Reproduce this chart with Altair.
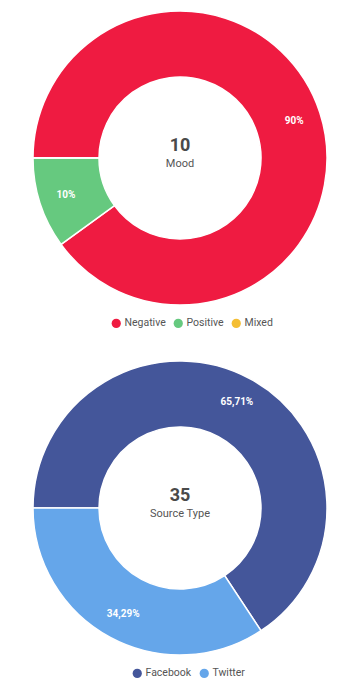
import math
import altair as alt
import pandas as pd

mood_cats = ["Negative", "Positive", "Mixed"]
mood_counts = [9, 1, 0]
mood_colors = ["#EF1B41", "#66C97F", "#F4BE34"]
mood_title = "Mood"

source_cats = ["Facebook", "Twitter"]
source_counts = [23, 12]
source_colors = ["#44569A", "#65A6EA"]
source_title = "Source Type"

FONT = "Roboto"
START = 3 * math.pi / 2


def pct_label(c, total):
    s = f"{c / total * 100:.2f}".rstrip("0").rstrip(".").replace(".", ",")
    return s + "%"


def donut(cats, counts, colors, title, legend_x):
    total = sum(counts)
    df = pd.DataFrame({
        "cat": cats,
        "count": counts,
        "idx": list(range(len(cats))),
        "label": [pct_label(c, total) for c in counts],
    })
    theta = alt.Theta("count:Q", stack=True,
                      scale=alt.Scale(range=[START, START + 2 * math.pi]))
    color = alt.Color(
        "cat:N",
        scale=alt.Scale(domain=cats, range=colors),
        legend=alt.Legend(
            title=None, orient="none", legendX=legend_x, legendY=308,
            direction="horizontal",
            symbolType="circle", symbolSize=85, symbolStrokeWidth=0,
            labelFont=FONT, labelFontSize=10.5, labelColor="#555555",
            columnPadding=7, labelOffset=3,
        ),
    )
    arcs = alt.Chart(df).mark_arc(
        radius=147, innerRadius=81, stroke="white", strokeWidth=1.5
    ).encode(theta=theta, color=color, order=alt.Order("idx:Q"))
    labels = alt.Chart(df).transform_filter("datum.count > 0").mark_text(
        radius=120, font=FONT, fontSize=10, fontWeight="bold", color="white"
    ).encode(theta=theta, text="label:N", order=alt.Order("idx:Q"))
    center = pd.DataFrame({"t": [str(total)], "s": [title]})
    num = alt.Chart(center).mark_text(
        font=FONT, fontSize=18, fontWeight="bold", color="#4A4A4A", dy=-12
    ).encode(text="t:N")
    sub = alt.Chart(center).mark_text(
        font=FONT, fontSize=11, color="#555555", dy=6
    ).encode(text="s:N")
    return alt.layer(arcs, labels, num, sub).properties(width=334, height=296)


top = donut(mood_cats, mood_counts, mood_colors, mood_title, 98)
bottom = donut(source_cats, source_counts, source_colors, source_title, 119)

chart = alt.vconcat(top, bottom, spacing=29).resolve_scale(
    color="independent", theta="independent"
).properties(
    padding={"left": 5, "top": 0, "right": 5, "bottom": 0}
).configure_view(stroke=None)

chart.save("out.html", embed_options={"renderer": "svg", "actions": False})
